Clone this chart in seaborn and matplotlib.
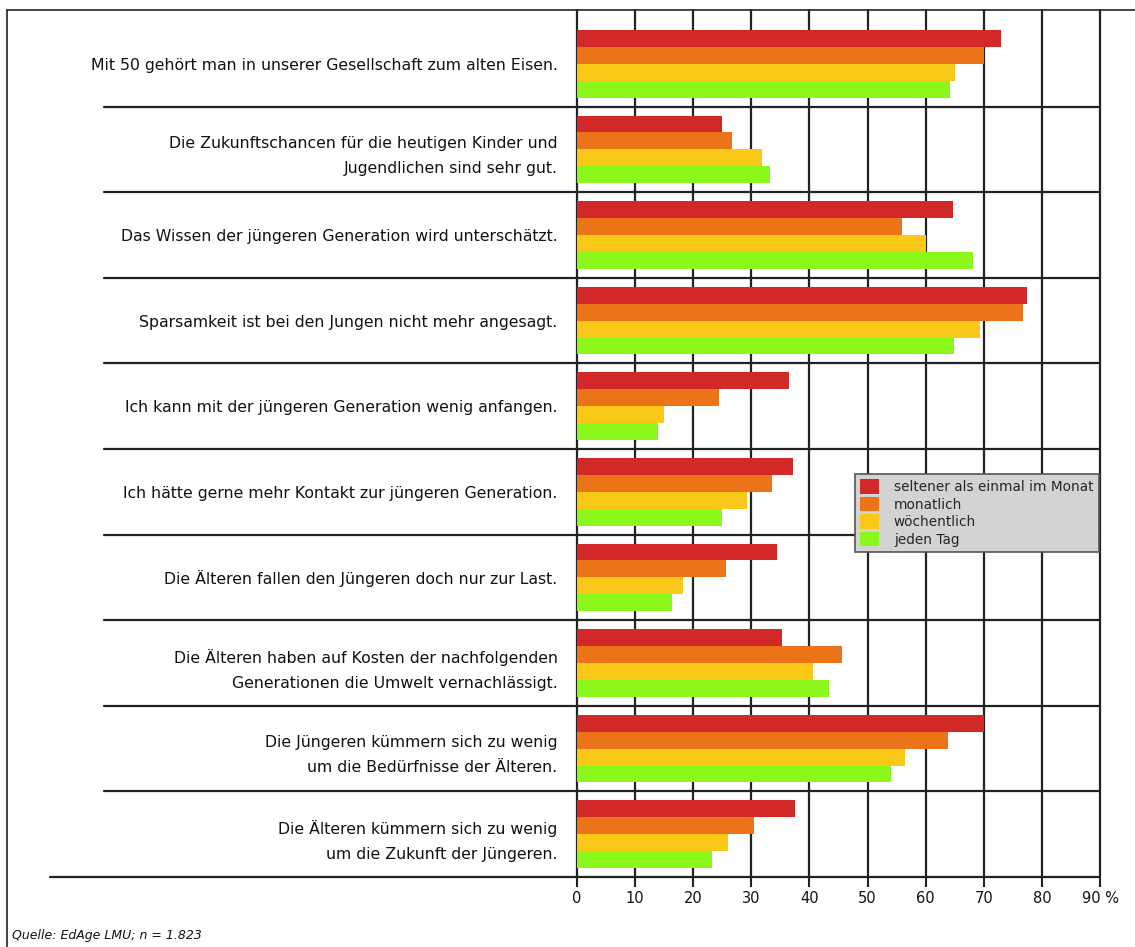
import matplotlib
matplotlib.use("Agg")
import matplotlib.pyplot as plt
import matplotlib.transforms as mtransforms
from matplotlib.lines import Line2D
import seaborn as sns
import pandas as pd

categories = [
    "Mit 50 gehört man in unserer Gesellschaft zum alten Eisen.",
    "Die Zukunftschancen für die heutigen Kinder und\nJugendlichen sind sehr gut.",
    "Das Wissen der jüngeren Generation wird unterschätzt.",
    "Sparsamkeit ist bei den Jungen nicht mehr angesagt.",
    "Ich kann mit der jüngeren Generation wenig anfangen.",
    "Ich hätte gerne mehr Kontakt zur jüngeren Generation.",
    "Die Älteren fallen den Jüngeren doch nur zur Last.",
    "Die Älteren haben auf Kosten der nachfolgenden\nGenerationen die Umwelt vernachlässigt.",
    "Die Jüngeren kümmern sich zu wenig\num die Bedürfnisse der Älteren.",
    "Die Älteren kümmern sich zu wenig\num die Zukunft der Jüngeren.",
]
series = ["seltener als einmal im Monat", "monatlich", "wöchentlich", "jeden Tag"]
selten = [72.9, 25.0, 64.7, 77.5, 36.4, 37.2, 34.4, 35.3, 70.1, 37.6]
monatlich = [70.0, 26.6, 56.0, 76.8, 24.5, 33.5, 25.7, 45.6, 63.9, 30.5]
woechentlich = [65.1, 31.9, 60.0, 69.3, 15.0, 29.2, 18.2, 40.6, 56.5, 25.9]
jeden_tag = [64.2, 33.2, 68.1, 64.9, 14.0, 25.0, 16.3, 43.3, 54.0, 23.2]
colors = ["#D32828", "#EB7318", "#FAC816", "#8CF71A"]
xticks = [0, 10, 20, 30, 40, 50, 60, 70, 80, 90]
xticklabels = ["0", "10", "20", "30", "40", "50", "60", "70", "80", "90 %"]
source = "Quelle: EdAge LMU; n = 1.823"

rows = []
for name, vals in zip(series, [selten, monatlich, woechentlich, jeden_tag]):
    for cat, v in zip(categories, vals):
        rows.append({"Aussage": cat, "Wert": v, "Häufigkeit": name})
df = pd.DataFrame(rows)

sns.set_theme(style="white")
plt.rcParams["font.family"] = ["DejaVu Sans"]

W, H = 1135, 947
fig = plt.figure(figsize=(W / 100, H / 100), dpi=100)
x0, x90 = 577, 1100
ytop, ybot = 10, 877
ax = fig.add_axes([x0 / W, 1 - ybot / H, (x90 - x0) / W, (ybot - ytop) / H])

sns.barplot(data=df, y="Aussage", x="Wert", hue="Häufigkeit", order=categories,
            hue_order=series, palette=colors, orient="h", width=0.79,
            linewidth=0, saturation=1, ax=ax)

ax.set_xlim(0, 90)
ax.set_ylim(9.5, 9.5 - (ybot - ytop) / 85.6)
ax.set_xticks(xticks)
ax.set_xticklabels(xticklabels, fontsize=10.5, color="#111")
ax.set_xlabel("")
ax.set_ylabel("")
ax.tick_params(axis="y", length=0, pad=14, labelsize=11.3, labelcolor="#111")
for t in ax.get_yticklabels():
    t.set_linespacing(1.85)
ax.tick_params(axis="x", bottom=True, length=7, width=1.5, color="#222", pad=3)
ax.xaxis.grid(True, color="#222", linewidth=1.6)
for gl in ax.get_xgridlines():
    gl.set_clip_on(False)
ax.yaxis.grid(False)
ax.set_axisbelow(True)
for s in ax.spines.values():
    s.set_visible(False)

blend = mtransforms.blended_transform_factory(ax.transAxes, ax.transData)
for k in range(9):
    ax.plot([(104 - x0) / (x90 - x0), 1.0], [k + 0.5, k + 0.5], transform=blend,
            clip_on=False, color="#222", lw=1.6, zorder=3)
ax.plot([(50 - x0) / (x90 - x0), 1.0], [9.5, 9.5], transform=blend,
        clip_on=False, color="#222", lw=1.6, zorder=3)

handles, labels = ax.get_legend_handles_labels()
leg = ax.legend(handles, labels, loc="upper left",
                bbox_to_anchor=((855 - x0) / (x90 - x0), (ybot - 474) / (ybot - ytop)),
                frameon=True, fancybox=False, facecolor="#D3D3D3", edgecolor="#555555",
                framealpha=1, fontsize=9.8, handlelength=1.35, handleheight=1.25,
                labelspacing=0.2, borderpad=0.4, handletextpad=1.1, borderaxespad=0)
leg.get_frame().set_linewidth(1.2)
leg.set_zorder(5)

# outer frame
fx, fy = 7 / W, 1 - 10 / H
fig.add_artist(Line2D([fx, fx], [0, fy], transform=fig.transFigure, color="#222", lw=1.2))
fig.add_artist(Line2D([fx, 1], [fy, fy], transform=fig.transFigure, color="#222", lw=1.2))

fig.text(12 / W, 1 - 935 / H, source, style="italic", fontsize=9, va="center", color="#111")

fig.savefig("out.png", dpi=100)
